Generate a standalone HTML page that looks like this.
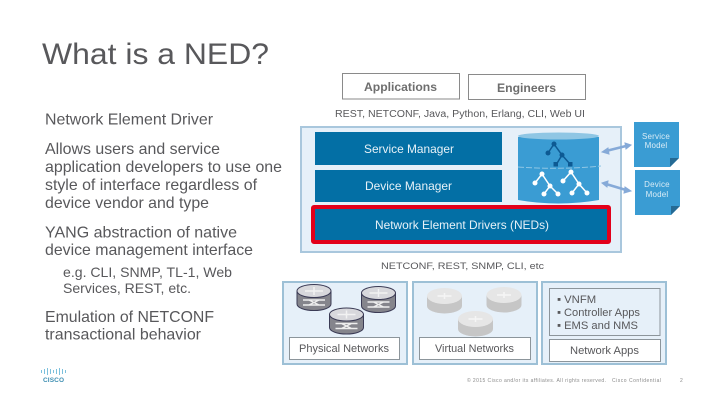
<!DOCTYPE html>
<html><head><meta charset="utf-8"><style>
html,body{margin:0;padding:0;background:#fff;width:720px;height:405px;overflow:hidden}
svg{display:block}
text{font-family:"Liberation Sans",sans-serif;fill:#58585b}
</style></head><body>
<svg width="720" height="405" viewBox="0 0 720 405" xmlns="http://www.w3.org/2000/svg">
<defs>
<g id="r"><path d="M-17 -6V7A17 6.500 0 0 0 17 7V-6Z" fill="#85858c" stroke="#3b3b55" stroke-width="1"/><ellipse cx="0" cy="-6" rx="17" ry="6.500" fill="#d8d8dc" stroke="#3b3b55" stroke-width="1"/><path d="M-9 -6H9M0 -10V-2" stroke="#f2f2f2" stroke-width="1.500"/><path d="M-11 3H11M-11 8H11M-5 3L5 8M5 3L-5 8" stroke="#eee" stroke-width="1.400" fill="none"/></g>
<g id="v"><path d="M-17.500 -5V5A17.500 7.500 0 0 0 17.500 5V-5Z" fill="#c6c6c6"/><ellipse cx="0" cy="-5" rx="17.500" ry="8" fill="#e6e6e6"/><path d="M-7 -5H7M0 -8V-2" stroke="#f5f5f5" stroke-width="1.500"/></g>
</defs>

<text x="42" y="64" font-size="29.500" textLength="227" lengthAdjust="spacingAndGlyphs">What is a NED?</text>
<g font-size="15.800">
<text x="45" y="124.500" textLength="168" lengthAdjust="spacingAndGlyphs">Network Element Driver</text>
<text x="45" y="154" textLength="175" lengthAdjust="spacingAndGlyphs">Allows users and service</text>
<text x="45" y="172" textLength="237" lengthAdjust="spacingAndGlyphs">application developers to use one</text>
<text x="45" y="190" textLength="212" lengthAdjust="spacingAndGlyphs">style of interface regardless of</text>
<text x="45" y="208" textLength="164" lengthAdjust="spacingAndGlyphs">device vendor and type</text>
<text x="45" y="237.500" textLength="192" lengthAdjust="spacingAndGlyphs">YANG abstraction of native</text>
<text x="45" y="255" textLength="208" lengthAdjust="spacingAndGlyphs">device management interface</text>
<text x="45" y="322" textLength="169" lengthAdjust="spacingAndGlyphs">Emulation of NETCONF</text>
<text x="45" y="339.500" textLength="156" lengthAdjust="spacingAndGlyphs">transactional behavior</text>
</g>
<g font-size="14">
<text x="63" y="277" textLength="169" lengthAdjust="spacingAndGlyphs">e.g. CLI, SNMP, TL-1, Web</text>
<text x="63" y="293" textLength="128" lengthAdjust="spacingAndGlyphs">Services, REST, etc.</text>
</g>

<g fill="#fff" stroke="#8a8a8a" stroke-width="1">
<rect x="342.500" y="73.500" width="117" height="25.500"/>
<rect x="468.500" y="74.500" width="117" height="25"/>
</g>
<text x="364" y="91" font-size="12" font-weight="bold" textLength="73" lengthAdjust="spacingAndGlyphs" style="fill:#6e6e6e">Applications</text>
<text x="497" y="92" font-size="12" font-weight="bold" textLength="59" lengthAdjust="spacingAndGlyphs" style="fill:#6e6e6e">Engineers</text>
<text x="335" y="117" font-size="10" textLength="250" lengthAdjust="spacingAndGlyphs">REST, NETCONF, Java, Python, Erlang, CLI, Web UI</text>

<rect x="301" y="127" width="320" height="125" fill="#e6f0f9" stroke="#a9c7dd" stroke-width="2"/>
<rect x="315" y="132" width="187" height="33" fill="#036fa5"/>
<rect x="315" y="170" width="187" height="32" fill="#036fa5"/>
<rect x="313" y="207" width="296" height="35" fill="#036fa5" stroke="#e2001a" stroke-width="4" rx="1"/>
<text x="364" y="153" font-size="12" textLength="90" lengthAdjust="spacingAndGlyphs" style="fill:#e8f2f8">Service Manager</text>
<text x="365" y="190" font-size="12" textLength="87" lengthAdjust="spacingAndGlyphs" style="fill:#e8f2f8">Device Manager</text>
<text x="375" y="229" font-size="12" textLength="174" lengthAdjust="spacingAndGlyphs" style="fill:#e8f2f8">Network Element Drivers (NEDs)</text>

<!-- datastore cylinder -->
<path d="M518 137V200Q558 207 599 200V137Z" fill="#3a9cd3"/>
<ellipse cx="558.500" cy="136" rx="40.500" ry="3.500" fill="#8fc6e4"/>
<path d="M518 167Q560 170 601 166" stroke="#8fc6e4" stroke-width="1" stroke-dasharray="6 2" fill="none"/>
<g fill="none" stroke="#0d5a93" stroke-width="1.500"><path d="M548 153L554 144L562 155L556 165M562 155L570 164"/></g>
<g fill="#0d5a93"><circle cx="554" cy="144" r="2.500"/><circle cx="548" cy="153" r="2.500"/><circle cx="562" cy="155" r="2.500"/><rect x="553.500" y="162" width="4.500" height="4.500"/><rect x="568" y="162" width="4.500" height="4.500"/></g>
<g fill="none" stroke="#fff" stroke-width="1.500"><path d="M535 183L542 174L550 186L544 194M550 186L558 194"/><path d="M563 181L571 172L579 184L572 193M579 184L587 193"/></g>
<g fill="#fff"><circle cx="542" cy="174" r="2.500"/><circle cx="535" cy="183" r="2.500"/><circle cx="550" cy="186" r="2.500"/><circle cx="544" cy="194" r="2.500"/><circle cx="558" cy="194" r="2.500"/><circle cx="571" cy="172" r="2.500"/><circle cx="563" cy="181" r="2.500"/><circle cx="579" cy="184" r="2.500"/><circle cx="572" cy="193" r="2.500"/><circle cx="587" cy="193" r="2.500"/></g>

<!-- notes -->
<path d="M634 122H679V158L670 167H634Z" fill="#3a9cd3"/><path d="M670 167V158H679Z" fill="#256a94"/>
<path d="M635 170H680V206L671 215H635Z" fill="#3a9cd3"/><path d="M671 215V206H680Z" fill="#256a94"/>
<g font-size="8" text-anchor="middle" style="letter-spacing:.2px">
<text x="656" y="139" style="fill:#d9ecf6">Service</text><text x="656" y="148" style="fill:#d9ecf6">Model</text>
<text x="657" y="187" style="fill:#d9ecf6">Device</text><text x="657" y="197" style="fill:#d9ecf6">Model</text>
</g>
<g stroke="#86aad8" stroke-width="2.500" fill="#86aad8">
<path d="M606 151L626 146"/><path d="M602 152L608 148L609 154Z" stroke-width="1"/><path d="M631 145L625 143L626 149Z" stroke-width="1"/>
<path d="M606 184L626 190"/><path d="M602 183L608 181L607 187Z" stroke-width="1"/><path d="M631 191L625 187L624 193Z" stroke-width="1"/>
</g>

<text x="381" y="269" font-size="9.500" textLength="163" lengthAdjust="spacingAndGlyphs">NETCONF, REST, SNMP, CLI, etc</text>

<g fill="#e6f0f9" stroke="#9dc0d6" stroke-width="2">
<rect x="283" y="282" width="124" height="82"/>
<rect x="413" y="282" width="124" height="82"/>
<rect x="542" y="282" width="124" height="82"/>
</g>
<use href="#r" x="314" y="297"/><use href="#r" x="378.500" y="299"/><use href="#r" x="346.500" y="320.500"/>
<use href="#v" x="444.500" y="301"/><use href="#v" x="504" y="300"/><use href="#v" x="475.500" y="324"/>
<g fill="#fff" stroke="#8c959b" stroke-width="1">
<rect x="289.500" y="337.500" width="110" height="22"/>
<rect x="419.500" y="337.500" width="111" height="22"/>
<rect x="549.500" y="339.500" width="111" height="22"/>
</g>
<rect x="549.500" y="288.500" width="110.500" height="47" fill="#e6f0f9" stroke="#8c959b"/>
<g font-size="11.300">
<text x="299" y="352" textLength="90" lengthAdjust="spacingAndGlyphs">Physical Networks</text>
<text x="435" y="352" textLength="79" lengthAdjust="spacingAndGlyphs">Virtual Networks</text>
<text x="570" y="354" textLength="69" lengthAdjust="spacingAndGlyphs">Network Apps</text>
<text x="557" y="303">▪ VNFM</text>
<text x="557" y="316" textLength="83" lengthAdjust="spacingAndGlyphs">▪ Controller Apps</text>
<text x="557" y="329" textLength="81" lengthAdjust="spacingAndGlyphs">▪ EMS and NMS</text>
</g>

<text x="467" y="382" font-size="5" textLength="139" style="fill:#8a8a8a">© 2015 Cisco and/or its affiliates. All rights reserved.</text>
<text x="612" y="382" font-size="5" textLength="49" style="fill:#8a8a8a">Cisco Confidential</text>
<text x="680" y="382" font-size="5" style="fill:#8a8a8a">2</text>

<!-- logo -->
<g stroke="#7cc0dc" stroke-width="1">
<path d="M41.500 370V373M44.500 369V374M47.500 368V375M50.500 369V374M53.500 370V373M56.500 369V374M59.500 368V375M62.500 369V374M65.500 370V373"/>
</g>
<text x="43" y="382" font-size="6.500" font-weight="bold" textLength="21" style="fill:#3f8fb2">CISCO</text>
</svg>
</body></html>
